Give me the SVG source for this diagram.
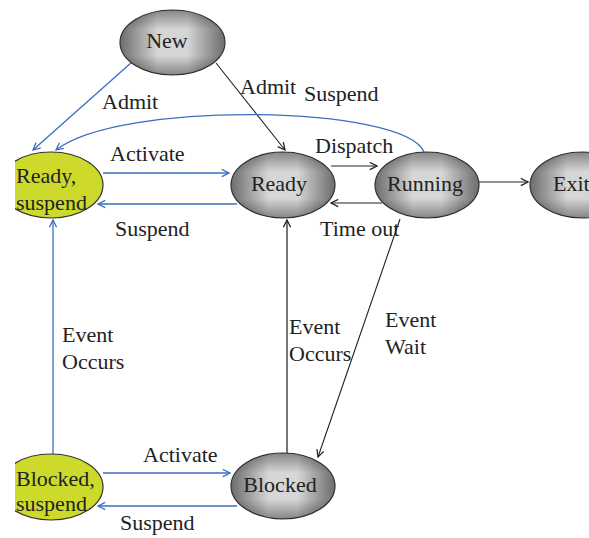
<svg xmlns="http://www.w3.org/2000/svg" width="589" height="538" viewBox="0 0 589 538">
  <style>
    text { font-family: "Liberation Serif", "DejaVu Serif", serif; font-size: 22px; fill: #222; }
    .proc { fill: url(#greyH); stroke: #333; stroke-width: 1.2; }
    .shade { fill: url(#greyV); stroke: none; }
    .susp { fill: #cdda2c; stroke: #333; stroke-width: 1.2; }
    .blue { fill: none; stroke: #3a6fc0; stroke-width: 1.3; marker-end: url(#headBlue); }
    .dark { fill: none; stroke: #222; stroke-width: 1.1; marker-end: url(#headDark); }
  </style>
  <defs>
    <!-- bevelled grey: horizontal ramp plus a vertical shade on top -->
    <linearGradient id="greyH" x1="0" y1="0" x2="1" y2="0">
      <stop offset="0" stop-color="#6c6c6c"/>
      <stop offset="0.22" stop-color="#acacac"/>
      <stop offset="0.36" stop-color="#d6d6d6"/>
      <stop offset="0.64" stop-color="#d6d6d6"/>
      <stop offset="0.78" stop-color="#acacac"/>
      <stop offset="1" stop-color="#6c6c6c"/>
    </linearGradient>
    <linearGradient id="greyV" x1="0" y1="0" x2="0" y2="1">
      <stop offset="0" stop-color="#000" stop-opacity="0.38"/>
      <stop offset="0.3" stop-color="#000" stop-opacity="0"/>
      <stop offset="0.7" stop-color="#000" stop-opacity="0"/>
      <stop offset="1" stop-color="#000" stop-opacity="0.38"/>
    </linearGradient>
    <marker id="headBlue" viewBox="0 0 10 10" refX="9" refY="5" markerWidth="9" markerHeight="9" markerUnits="userSpaceOnUse" orient="auto">
      <path d="M1,1 L9,5 L1,9" fill="none" stroke="#3a6fc0" stroke-width="1.4"/>
    </marker>
    <marker id="headDark" viewBox="0 0 10 10" refX="9" refY="5" markerWidth="9" markerHeight="9" markerUnits="userSpaceOnUse" orient="auto">
      <path d="M1,1 L9,5 L1,9" fill="none" stroke="#222" stroke-width="1.4"/>
    </marker>
    <clipPath id="leftEdge">
      <rect x="15" y="0" width="574" height="538"/>
    </clipPath>
  </defs>

  <!-- transitions -->
  <g id="connectors">
    <path class="blue" d="M132,62 L33,150"/>
    <path class="dark" d="M216,63 L285,150"/>
    <path class="blue" d="M424,152 C405,105 120,100 56,150"/>
    <path class="blue" d="M103,173 L229,173"/>
    <path class="blue" d="M237,204 L98,204"/>
    <path class="dark" d="M331,166 L377,166"/>
    <path class="dark" d="M382,203 L331,203"/>
    <path class="dark" d="M479,182 L528,182"/>
    <path class="blue" d="M53,455 L53,220"/>
    <path class="dark" d="M287,453 L287,220" style="stroke:#555;stroke-width:1.6"/>
    <path class="dark" d="M400,219 L318,457"/>
    <path class="blue" d="M103,473 L230,473"/>
    <path class="blue" d="M237,506 L98,506"/>
  </g>

  <!-- transition labels -->
  <g id="labels">
    <text x="102" y="109">Admit</text>
    <text x="240" y="94">Admit</text>
    <text x="304" y="101">Suspend</text>
    <text x="110" y="161">Activate</text>
    <text x="315" y="153">Dispatch</text>
    <text x="115" y="236">Suspend</text>
    <text x="320" y="236">Time out</text>
    <text x="62" y="342">Event</text>
    <text x="62" y="369">Occurs</text>
    <text x="289" y="334">Event</text>
    <text x="289" y="361">Occurs</text>
    <text x="385" y="327">Event</text>
    <text x="385" y="354">Wait</text>
    <text x="143" y="462">Activate</text>
    <text x="120" y="530">Suspend</text>
  </g>

  <!-- states -->
  <g id="new">
    <ellipse class="proc" cx="172.5" cy="42.5" rx="52.5" ry="32.5"/>
    <ellipse class="shade" cx="172.5" cy="42.5" rx="52.5" ry="32.5"/>
    <text x="167" y="48" text-anchor="middle">New</text>
  </g>
  <g id="ready">
    <ellipse class="proc" cx="283" cy="185" rx="52" ry="33"/>
    <ellipse class="shade" cx="283" cy="185" rx="52" ry="33"/>
    <text x="279" y="191" text-anchor="middle">Ready</text>
  </g>
  <g id="running">
    <ellipse class="proc" cx="427" cy="185" rx="52" ry="33"/>
    <ellipse class="shade" cx="427" cy="185" rx="52" ry="33"/>
    <text x="425" y="191" text-anchor="middle">Running</text>
  </g>
  <g id="exit">
    <ellipse class="proc" cx="582" cy="185" rx="52" ry="33"/>
    <ellipse class="shade" cx="582" cy="185" rx="52" ry="33"/>
    <text x="553" y="191">Exit</text>
  </g>
  <g id="ready-suspend" clip-path="url(#leftEdge)">
    <ellipse class="susp" cx="51" cy="185" rx="52" ry="33"/>
    <text x="16" y="183">Ready,</text>
    <text x="16" y="210">suspend</text>
  </g>
  <g id="blocked">
    <ellipse class="proc" cx="283" cy="486" rx="52" ry="33"/>
    <ellipse class="shade" cx="283" cy="486" rx="52" ry="33"/>
    <text x="280" y="492" text-anchor="middle">Blocked</text>
  </g>
  <g id="blocked-suspend" clip-path="url(#leftEdge)">
    <ellipse class="susp" cx="51" cy="487" rx="52" ry="33"/>
    <text x="16" y="486">Blocked,</text>
    <text x="16" y="511">suspend</text>
  </g>
</svg>
